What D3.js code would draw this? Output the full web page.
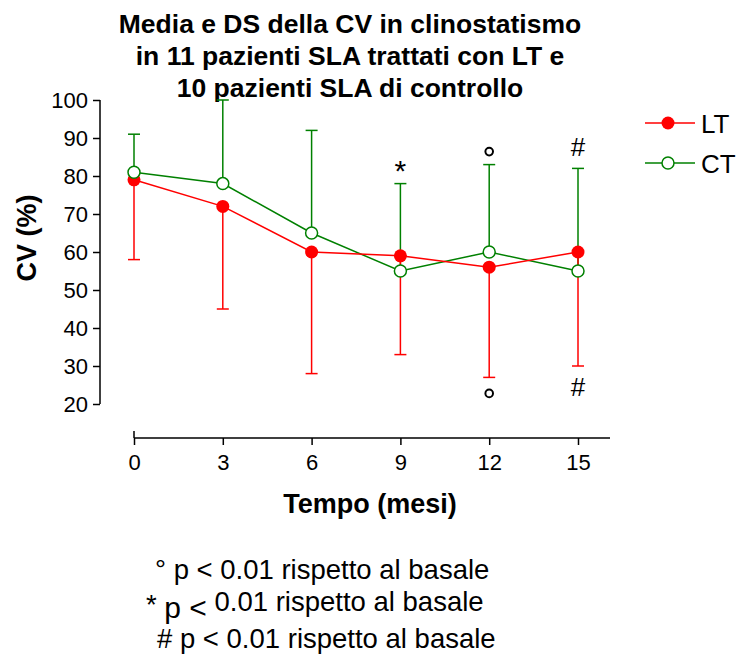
<!DOCTYPE html>
<html>
<head>
<meta charset="utf-8">
<title>CV clinostatismo</title>
<style>
  body { margin: 0; background: #fff; }
  text { font-family: "Liberation Sans", Arial, sans-serif; fill: #000; }
</style>
</head>
<body>
<script src="https://d3js.org/d3.v7.min.js"></script>
<script>
var months = [0, 3, 6, 9, 12, 15];
var ltMean = [79, 72, 60, 59, 56, 60];
var ltLow = [58, 45, 28, 33, 27, 30];   // LT: only lower SD bar drawn
var ctMean = [81, 78, 65, 55, 60, 55];
var ctHigh = [91, 100, 92, 78, 83, 82]; // CT: only upper SD bar drawn
var yTicks = [20, 30, 40, 50, 60, 70, 80, 90, 100];
var marks = [
  { month: 9, value: 78, side: 'up', sym: '*' },
  { month: 12, value: 83, side: 'up', sym: 'o' },
  { month: 15, value: 82, side: 'up', sym: '#' },
  { month: 12, value: 27, side: 'down', sym: 'o' },
  { month: 15, value: 30, side: 'down', sym: '#' }
];
var titleLines = ['Media e DS della CV in clinostatismo',
                  'in 11 pazienti SLA trattati con LT e',
                  '10 pazienti SLA di controllo'];

var width = 739, height = 655;
var red = '#ff0000', green = '#008000';

var svg = d3.select('body').append('svg')
    .attr('width', width)
    .attr('height', height);

var x = d3.scaleLinear().domain([0, 15]).range([134, 578]);
var y = d3.scaleLinear().domain([20, 100]).range([404, 100]);

// title
svg.append('g').selectAll('text')
    .data(titleLines)
    .enter().append('text')
    .attr('x', 350)
    .attr('y', function (d, i) { return 33 + i * 32; })
    .attr('text-anchor', 'middle')
    .style('font-size', '26.5px')
    .style('font-weight', 'bold')
    .text(function (d) { return d; });

// y axis
var yAxis = svg.append('g')
    .attr('transform', 'translate(100,0)')
    .call(d3.axisLeft(y).tickValues(yTicks).tickSize(7).tickPadding(5));
// x axis
var xAxis = svg.append('g')
    .attr('transform', 'translate(0,438)')
    .call(d3.axisBottom(x).tickValues(months).tickSize(7).tickPadding(9).tickSizeOuter(0));
[yAxis, xAxis].forEach(function (a) {
    a.selectAll('path, line').attr('stroke', '#000').attr('stroke-width', 1.5);
    a.selectAll('text').style('font-size', '22px').style('font-family', '"Liberation Sans", Arial, sans-serif');
});
yAxis.select('.domain').attr('d', 'M0,' + y(100) + 'V' + y(20));
xAxis.select('.domain').attr('d', 'M' + x(0) + ',0V-7M' + x(0) + ',0H610');

svg.append('text')
    .attr('transform', 'translate(36,238) rotate(-90)')
    .attr('text-anchor', 'middle')
    .style('font-size', '27px')
    .style('font-weight', 'bold')
    .text('CV (%)');

svg.append('text')
    .attr('x', 370)
    .attr('y', 513)
    .attr('text-anchor', 'middle')
    .style('font-size', '27px')
    .style('font-weight', 'bold')
    .text('Tempo (mesi)');

// error bars
function errorBars(mean, ends, color) {
    var g = svg.append('g').attr('stroke', color).attr('stroke-width', 1.5);
    months.forEach(function (m, i) {
        g.append('line').attr('x1', x(m)).attr('x2', x(m))
            .attr('y1', y(mean[i])).attr('y2', y(ends[i]));
        g.append('line').attr('x1', x(m) - 6).attr('x2', x(m) + 6)
            .attr('y1', y(ends[i])).attr('y2', y(ends[i]));
    });
}
errorBars(ctMean, ctHigh, green);
errorBars(ltMean, ltLow, red);

var line = d3.line()
    .x(function (d, i) { return x(months[i]); })
    .y(function (d) { return y(d); });

svg.append('path').datum(ctMean)
    .attr('d', line).attr('fill', 'none').attr('stroke', green).attr('stroke-width', 1.5);
svg.append('path').datum(ltMean)
    .attr('d', line).attr('fill', 'none').attr('stroke', red).attr('stroke-width', 1.5);

svg.append('g').selectAll('circle')
    .data(ltMean)
    .enter().append('circle')
    .attr('cx', function (d, i) { return x(months[i]); })
    .attr('cy', function (d) { return y(d); })
    .attr('r', 6.5)
    .attr('fill', red);

svg.append('g').selectAll('circle')
    .data(ctMean)
    .enter().append('circle')
    .attr('cx', function (d, i) { return x(months[i]); })
    .attr('cy', function (d) { return y(d); })
    .attr('r', 6)
    .attr('fill', '#fff')
    .attr('stroke', green)
    .attr('stroke-width', 1.5);

// significance marks
marks.forEach(function (d) {
    var cx = x(d.month);
    var cy = y(d.value);
    if (d.sym === 'o') {
        svg.append('circle')
            .attr('cx', cx).attr('cy', d.side === 'up' ? cy - 13 : cy + 16)
            .attr('r', 3.8).attr('fill', 'none')
            .attr('stroke', '#000').attr('stroke-width', 2);
    } else {
        svg.append('text')
            .attr('x', cx)
            .attr('y', d.side === 'up' ? (d.sym === '*' ? cy - 3 : cy - 12) : cy + 30)
            .attr('text-anchor', 'middle')
            .style('font-size', d.sym === '*' ? '30px' : '26px')
            .text(d.sym);
    }
});

// legend
var legend = svg.append('g');
[['LT', red, true], ['CT', green, false]].forEach(function (d, i) {
    var ly = 123 + i * 40;
    legend.append('line').attr('x1', 645).attr('x2', 695)
        .attr('y1', ly).attr('y2', ly)
        .attr('stroke', d[1]).attr('stroke-width', 1.5);
    legend.append('circle').attr('cx', 668).attr('cy', ly)
        .attr('r', d[2] ? 6.5 : 6)
        .attr('fill', d[2] ? d[1] : '#fff')
        .attr('stroke', d[1]).attr('stroke-width', d[2] ? 0 : 1.5);
    legend.append('text').attr('x', 701).attr('y', ly + 10)
        .style('font-size', '26px').text(d[0]);
});

// footnotes
var foot = svg.append('g').style('font-size', '27.5px');
foot.append('text').attr('x', 155).attr('y', 579).text('° p < 0.01 rispetto al basale');
var f2 = foot.append('text').attr('x', 146).attr('y', 614);
f2.append('tspan').text('* ');
f2.append('tspan').style('font-size', '30px').attr('dy', 4).text('p <');
f2.append('tspan').attr('dy', -7).text(' 0.01 rispetto al basale');
foot.append('text').attr('x', 157).attr('y', 648).text('# p < 0.01 rispetto al basale');
</script>
</body>
</html>
